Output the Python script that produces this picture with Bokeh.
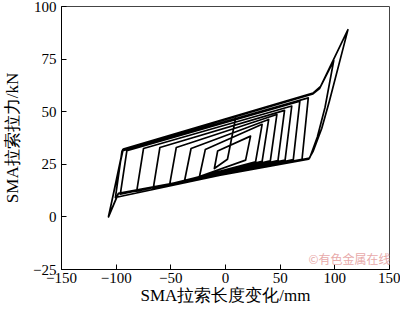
from bokeh.plotting import figure
from bokeh.models import Range1d, FixedTicker, Label
from bokeh.embed import file_html
from bokeh.resources import INLINE

# Hysteresis path of the SMA cable (turning points)
length_mm = [9.3, 1.8,
             -10.2, -7.2, 22.9, 18.4,
             -23.8, -18.5, 33.5, 27.5,
             -37.4, -31.5, 39.5, 33.5,
             -51.0, -45.0, 47.0, 41.0,
             -66.0, -60.0, 54.0, 48.0,
             -81.2, -75.0, 60.6, 54.5,
             -96.2, -90.2, 68.0, 62.0,
             -100.7, -94.7, 75.7, 70.0,
             -98.0, -107.0, -94.0, 80.0, 86.0, 99.0, 91.0, 84.0, 77.0,
             -98.0, -107.0, -93.5, 80.0, 87.0, 112.0, 95.0, 88.0, 80.0, 76.0,
             -98.0, -107.0]
force_kN = [47.1, 27.4,
            23.0, 31.3, 38.4, 27.0,
            19.2, 32.0, 44.0, 26.2,
            17.3, 32.5, 46.3, 26.4,
            15.6, 33.0, 48.7, 26.6,
            13.8, 33.0, 50.6, 26.8,
            12.2, 32.5, 52.7, 27.0,
            10.8, 31.5, 55.0, 27.2,
            9.2, 31.3, 56.6, 27.4,
            11.0, 0.0, 32.0, 58.5, 61.0, 74.3, 52.0, 38.0, 28.0,
            11.2, 0.2, 32.3, 58.8, 62.0, 89.0, 55.0, 42.0, 31.0, 27.4,
            11.0, 0.0]

x_ticks = [-150, -100, -50, 0, 50, 100, 150]
x_tick_labels = ["\u2212150", "\u2212100", "\u221250", "0", "50", "100", "150"]
y_ticks = [-25, 0, 25, 50, 75, 100]
y_tick_labels = ["\u221225", "0", "25", "50", "75", "100"]

FONT = "Liberation Serif"

p = figure(width=400, height=311, output_backend="svg", toolbar_location=None,
           x_range=Range1d(-150, 150), y_range=Range1d(-25, 100),
           min_border_left=57, min_border_right=11, min_border_top=6, min_border_bottom=42)
p.background_fill_color = "white"
p.border_fill_color = "white"
p.outline_line_color = "#444444"
p.outline_line_width = 1
p.grid.visible = False

p.line(length_mm, force_kN, line_color="black", line_width=1.7, line_join="round")

for ax, ticks, labels in ((p.xaxis[0], x_ticks, x_tick_labels), (p.yaxis[0], y_ticks, y_tick_labels)):
    ax.ticker = FixedTicker(ticks=ticks)
    ax.major_label_overrides = {t: l for t, l in zip(ticks, labels)}
    ax.minor_tick_line_color = None
    ax.major_tick_in = 5
    ax.major_tick_out = 0
    ax.major_tick_line_color = "black"
    ax.axis_line_color = "black"
    ax.major_label_text_font = FONT
    ax.major_label_text_font_size = "15px"
    ax.major_label_text_color = "black"
    ax.axis_label_text_font = FONT
    ax.axis_label_text_font_size = "17px"
    ax.axis_label_text_font_style = "normal"
    ax.axis_label_text_color = "black"

p.xaxis.axis_label = "SMA拉索长度变化/mm"
p.yaxis.axis_label = "SMA拉索拉力/kN"
p.xaxis.major_label_standoff = 3
p.xaxis.axis_label_standoff = 0
p.yaxis.major_label_standoff = 5
p.yaxis.axis_label_standoff = 8

# watermark: kept inside the plot frame (annotations outside the frame are clipped)
wm = Label(x=329, y=11, x_units="screen", y_units="screen", text="©有色金属在线",
           text_font="Noto Sans CJK SC", text_font_size="12px", text_color="#e8aaaa",
           text_align="right", text_baseline="middle")
p.add_layout(wm)

open("out.html", "w").write(file_html(p, INLINE))
